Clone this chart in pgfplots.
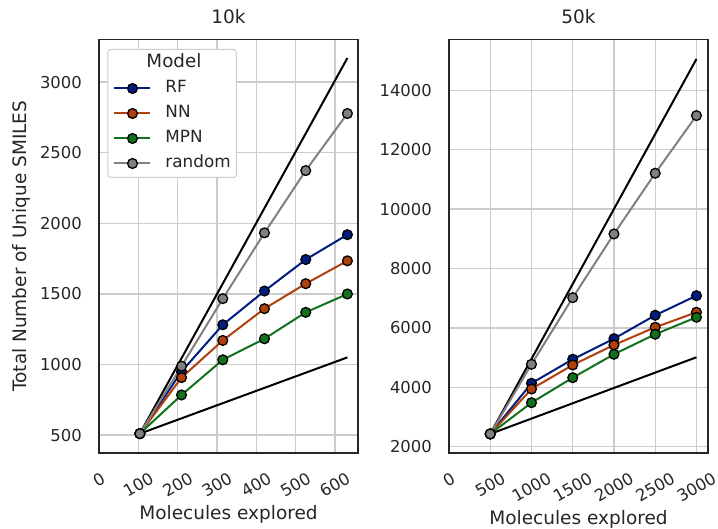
\documentclass[border=0pt]{standalone}
\usepackage{fontspec}
\setmainfont{DejaVu Sans}
\usepackage{graphicx}
\usepackage{pgfplots}
\usepackage{pgfplotstable}
\pgfplotsset{compat=1.18}

\definecolor{rfblue}{HTML}{001C7F}
\definecolor{nnorange}{HTML}{B1400D}
\definecolor{mpngreen}{HTML}{12711C}
\definecolor{rndgray}{HTML}{808080}
\definecolor{txt}{HTML}{262626}
\definecolor{gridc}{HTML}{CCCCCC}

% 10k library
\pgfplotstableread{
x    RF   NN   MPN  random
104  510  510  510  510
210  950  907  784  988
315  1281 1170 1033 1466
421  1520 1395 1182 1932
526  1743 1572 1369 2373
632  1919 1734 1499 2777
}\tabsmall

% 50k library
\pgfplotstableread{
x    RF   NN   MPN  random
500  2430 2430 2430 2430
1000 4135 3943 3481 4774
1500 4943 4751 4323 7017
2000 5636 5424 5111 9161
2500 6424 6020 5785 11205
3000 7084 6525 6357 13145
}\tablarge

\pgfplotsset{
  panel/.style={
    scale only axis, width=259bp, height=413bp,
    axis line style={txt, line width=1.6bp},
    grid=major, major grid style={gridc, line width=1.4bp},
    xtick style={draw=none}, ytick style={draw=none},
    scaled x ticks=false, scaled y ticks=false,
    /pgf/number format/assume math mode=true,
    /pgf/number format/set thousands separator={},
    tick label style={font=\fontsize{16.4bp}{19bp}\selectfont, text=txt},
    yticklabel style={anchor=east, inner sep=0pt, xshift=-17bp},
    xticklabel={\rotatebox{30}{\pgfmathprintnumber{\tick}}},
    xticklabel style={anchor=north, inner sep=0pt, yshift=-18.5bp},
    label style={font=\fontsize{18.5bp}{22bp}\selectfont, text=txt},
    title style={font=\fontsize{18.5bp}{22bp}\selectfont, text=txt,
      at={(axis description cs:0.5,1.0419)}, anchor=center},
    xlabel={Molecules explored},
    legend image code/.code={%
      \draw[mark repeat=2, mark phase=2]
        plot coordinates {(0bp,0bp) (18bp,0bp) (36bp,0bp)};},
  },
  series/.style={line width=2bp, color=#1, mark=*, mark size=4.9bp,
    mark options={draw=black, fill=#1, line width=1.3bp}},
  bound/.style={black, line width=2bp, forget plot},
}

\begin{document}
\begin{tikzpicture}
\path[use as bounding box] (-99bp,-76.3bp) rectangle (619bp,452.7bp);

\begin{axis}[panel,
  title={10k},
  xmin=0, xmax=659, ymin=375, ymax=3300,
  xtick={0,100,...,600}, ytick={500,1000,...,3000},
  ylabel={Total Number of Unique SMILES},
  ylabel style={at={(axis description cs:-0.3012,0.5)}, anchor=center},
  xlabel style={at={(axis description cs:0.5,-0.1501)}, anchor=center},
  legend style={at={(axis description cs:0,1)}, anchor=north west,
    xshift=8.3bp, yshift=-9.3bp,
    draw=gridc, line width=1bp, rounded corners=3bp, fill=white,
    font=\fontsize{16.8bp}{20bp}\selectfont, text=txt,
    inner xsep=5.7bp, inner ysep=6bp,
    column sep=14bp, row sep=9bp,
    nodes={inner sep=0pt, text height=12.5bp, text depth=3.5bp}},
  legend cell align=left,
]
\addplot[bound] coordinates {(104,510) (632,3170)};
\addplot[bound] coordinates {(104,510) (632,1050)};
\addlegendimage{empty legend}
\addlegendentry{\fontsize{18.3bp}{22bp}\selectfont\hspace*{-19bp}Model}
\addplot[series=rfblue]   table[x=x, y=RF]     {\tabsmall};
\addlegendentry{RF}
\addplot[series=nnorange] table[x=x, y=NN]     {\tabsmall};
\addlegendentry{NN}
\addplot[series=mpngreen] table[x=x, y=MPN]    {\tabsmall};
\addlegendentry{MPN}
\addplot[series=rndgray]  table[x=x, y=random] {\tabsmall};
\addlegendentry{random}
\end{axis}

\begin{axis}[panel, at={(350bp,0)},
  title={50k},
  xmin=0, xmax=3140, ymin=1798, ymax=15700,
  xtick={0,500,...,3000}, ytick={2000,4000,...,14000},
  xlabel style={at={(axis description cs:0.5,-0.1622)}, anchor=center},
]
\addplot[bound] coordinates {(500,2430) (3000,15050)};
\addplot[bound] coordinates {(500,2430) (3000,5010)};
\addplot[series=rfblue]   table[x=x, y=RF]     {\tablarge};
\addplot[series=nnorange] table[x=x, y=NN]     {\tablarge};
\addplot[series=mpngreen] table[x=x, y=MPN]    {\tablarge};
\addplot[series=rndgray]  table[x=x, y=random] {\tablarge};
\end{axis}
\end{tikzpicture}
\end{document}
